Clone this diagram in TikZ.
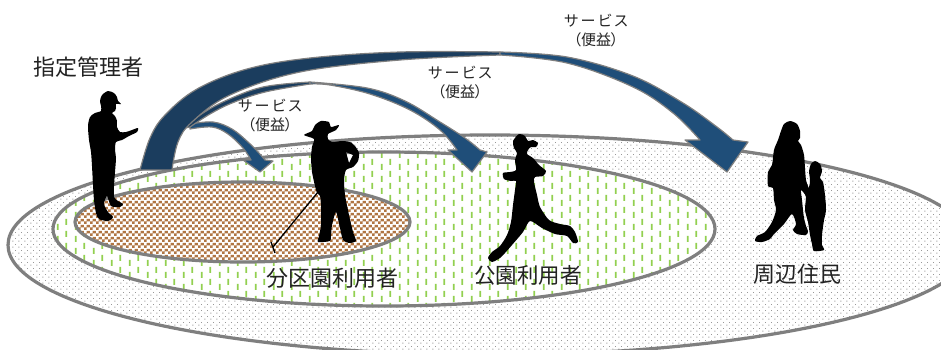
\documentclass[tikz,border=0pt]{standalone}
\usepackage{fontspec}
\newfontfamily\jp{Noto Sans CJK JP}
\newfontfamily\jpp[RawFeature=+palt]{Noto Sans CJK JP}
\usetikzlibrary{patterns}

\definecolor{rimgrey}{HTML}{7F7F7F}
\definecolor{dotgrey}{HTML}{999999}
\definecolor{grassgreen}{HTML}{92D050}
\definecolor{soilbrown}{HTML}{B07543}
\definecolor{arrowfront}{HTML}{1F4E79}
\definecolor{arrowback}{HTML}{1B3D5E}
\definecolor{inkgrey}{HTML}{222222}

% fine grey dot grid for the neighbourhood zone
\pgfdeclarepatterninherentlycolored{zonedots}{\pgfpointorigin}{\pgfpoint{6pt}{6pt}}{\pgfpoint{6pt}{6pt}}{%
  \pgfsetfillcolor{dotgrey}%
  \pgfpathrectangle{\pgfpoint{0.5pt}{0.5pt}}{\pgfpoint{1.1pt}{1.1pt}}%
  \pgfpathrectangle{\pgfpoint{3.5pt}{3.5pt}}{\pgfpoint{1.1pt}{1.1pt}}%
  \pgfusepath{fill}}
% short green grass strokes for the park
\pgfdeclarepatterninherentlycolored{grassdash}{\pgfpointorigin}{\pgfpoint{18pt}{12pt}}{\pgfpoint{18pt}{12pt}}{%
  \pgfsetfillcolor{grassgreen}%
  \pgfpathrectangle{\pgfpoint{3pt}{0pt}}{\pgfpoint{1.8pt}{6.5pt}}%
  \pgfpathrectangle{\pgfpoint{12pt}{5.5pt}}{\pgfpoint{1.8pt}{6.5pt}}%
  \pgfusepath{fill}}
% small brown checks for the allotment plots
\pgfdeclarepatterninherentlycolored{soilcheck}{\pgfpointorigin}{\pgfpoint{6pt}{6pt}}{\pgfpoint{6pt}{6pt}}{%
  \pgfsetfillcolor{soilbrown}%
  \pgfpathrectangle{\pgfpoint{0pt}{0pt}}{\pgfpoint{3pt}{3pt}}%
  \pgfpathrectangle{\pgfpoint{3pt}{3pt}}{\pgfpoint{3pt}{3pt}}%
  \pgfusepath{fill}}

\tikzset{
  rim/.style={draw=rimgrey, line width=3.2pt},
  frontpart/.style={fill=arrowfront, draw=rimgrey, line width=1.2pt, line join=round},
  backpart/.style={fill=arrowback, draw=rimgrey, line width=1.2pt, line join=round},
  figure/.style={fill=black},
  groupname/.style={font={\jp\fontsize{22}{24}\selectfont}, text=inkgrey, inner sep=0pt},
  benefit/.style={font={\jpp\fontsize{15}{19}\selectfont}, text=inkgrey, align=center, inner sep=0pt},
}

\begin{document}
\begin{tikzpicture}[x=1pt, y=-1pt]
\useasboundingbox (0,0) rectangle (941,349);
\clip (0,0) rectangle (941,349);

% ---- zones ----
\fill[white] (490,245) ellipse [x radius=482pt, y radius=110pt];
\fill[pattern=zonedots] (490,245) ellipse [x radius=482pt, y radius=110pt];
\draw[rim] (490,245) ellipse [x radius=482pt, y radius=110pt];

\fill[white] (384,229) ellipse [x radius=331pt, y radius=77pt];
\fill[pattern=grassdash] (384,229) ellipse [x radius=331pt, y radius=77pt];
\draw[rim] (384,229) ellipse [x radius=331pt, y radius=77pt];

\fill[white] (242.5,222) ellipse [x radius=167.5pt, y radius=40pt];
\fill[pattern=soilcheck] (242.5,222) ellipse [x radius=167.5pt, y radius=40pt];
\draw[rim] (242.5,222) ellipse [x radius=167.5pt, y radius=40pt];

% ---- service arrows ----
% to allotment users
\path[frontpart] plot[smooth, tension=0.6] coordinates {(190,124) (213,122) (232,129) (248,142) (258,152) (265,160)}
  -- (273,161) -- (260,172) -- (243,160) -- (251,160)
  -- plot[smooth, tension=0.6] coordinates {(251,160) (243,148) (228,134) (212,127) (190,129)} -- cycle;

% to park users
\path[backpart] plot[smooth, tension=0.6] coordinates {(185,128) (200,115) (225,101) (263,87) (310,82)}
  -- plot[smooth, tension=0.6] coordinates {(310,84) (265,92) (232,103) (210,114) (190,127)} -- cycle;
\path[frontpart] plot[smooth, tension=0.6] coordinates {(310,82) (367,88) (405,101) (440,122) (465,138) (480,150)}
  -- (487,152) -- (472,172) -- (448,150) -- (457,150)
  -- plot[smooth, tension=0.6] coordinates {(457,150) (440,130) (410,110) (370,94) (330,85) (310,84)} -- cycle;

% to neighbourhood residents
\path[backpart] plot[smooth, tension=0.6] coordinates {(140,170) (150,138) (165,115) (197,89) (247,69) (310,58) (400,52) (500,52)}
  -- plot[smooth, tension=0.6] coordinates {(500,55) (400,60) (300,72) (230,95) (192,122) (178,142) (172,170)} -- cycle;
\path[frontpart] plot[smooth, tension=0.6] coordinates {(500,52) (567,57) (633,76) (683,103) (717,127) (733,140)}
  -- (748,142) -- (727,172) -- (685,140) -- (700,140)
  -- plot[smooth, tension=0.6] coordinates {(700,140) (673,113) (633,87) (567,63) (500,55)} -- cycle;

% ---- people ----
% park manager with hard hat and tablet
\fill[figure] plot[smooth cycle, tension=0.45] coordinates {
  (108,91) (114,93) (117,97) (118,101) (121,104) (116,104) (116,108) (115,111) (112,113)
  (115,116) (117,121) (117,127) (120,132) (126,132) (132,130) (138,128) (137,132) (129,136)
  (122,140) (116,142) (115,150) (116,158) (115,172) (114,186) (114,197) (118,201) (123,204)
  (120,207) (111,206) (107,196) (104,204) (108,212) (113,217) (108,221) (99,219) (96,213)
  (94,200) (93,185) (92,166) (91,152) (89,140) (88,126) (90,117) (95,113) (101,111)
  (101,106) (100,101) (102,95)};

% allotment gardener with hat and hoe, one hand on the hip
\draw[line width=1.3pt] (318,192) -- (273,247);
\draw[line width=1.3pt] (271,242) -- (275,253);
\fill[figure, even odd rule] plot[smooth cycle, tension=0.4] coordinates {
  (304,135) (312,131) (315,125) (321,121) (329,122) (331,127) (339,125) (336,130) (328,134)
  (328,139) (332,142) (342,141) (350,142) (355,146) (359,153) (358,161) (353,167)
  (346,170) (344,180) (345,195) (349,215) (353,232) (356,241) (349,243) (343,240)
  (340,228) (336,212) (332,225) (331,236) (330,241) (318,242) (319,236) (321,225) (321,205)
  (320,196) (317,193) (315,186) (312,172) (311,158) (312,147) (314,139)}
  (346,152) -- (353,155) -- (349,163) -- cycle;

% jogger
\fill[figure] plot[smooth cycle, tension=0.45] coordinates {
  (519,134) (525,136) (528,141) (533,140) (538,143) (536,147) (531,147) (528,150) (527,154)
  (533,158) (539,165) (546,171) (543,176) (535,177) (534,182) (537,195) (540,207) (549,220)
  (560,224) (570,226) (575,232) (578,242) (573,243) (567,236) (555,234) (542,228) (530,221)
  (523,232) (512,245) (505,253) (500,258) (492,262) (488,258) (492,252) (500,246) (507,235)
  (511,222) (513,205) (515,190) (516,181) (511,181) (504,179) (503,173) (510,172) (516,170)
  (515,160) (517,153) (514,148) (513,141)};

% resident walking with a child
\fill[figure] plot[smooth cycle, tension=0.45] coordinates {
  (790,121) (797,124) (800,131) (800,138) (798,141) (801,145) (804,155) (805,168) (806,180)
  (809,190) (806,195) (801,190) (802,200) (803,210) (804,218) (806,226) (808,231) (806,235)
  (797,234) (793,230) (796,224) (792,214) (784,224) (774,234) (770,239) (762,242) (755,241)
  (757,236) (765,232) (772,222) (776,210) (774,200) (773,188) (768,186) (768,172) (772,165)
  (774,150) (778,140) (781,131) (784,124)};
\fill[figure] plot[smooth cycle, tension=0.45] coordinates {
  (815,161) (820,164) (822,171) (820,178) (823,182) (825,195) (826,210) (824,220) (822,235)
  (822,245) (824,250) (814,251) (812,244) (810,235) (808,222) (805,210) (806,197) (804,192)
  (809,187) (810,180) (809,171) (811,164)};

% ---- labels ----
\node[groupname] (manager) at (88,67) {指定管理者};
\node[groupname] (allotment) at (332,278) {分区園利用者};
\node[groupname, font={\jp\fontsize{21.5}{24}\selectfont}] (park) at (528,275) {公園利用者};
\node[groupname] (residents) at (797,274) {周辺住民};

\node[benefit] (svc1) at (270,116) {サ\kern2.5pt ー\kern2.5pt ビ\kern2.5pt ス\\（便益）};
\node[benefit] (svc2) at (460,83) {サ\kern2.5pt ー\kern2.5pt ビ\kern2.5pt ス\\（便益）};
\node[benefit] (svc3) at (596,31) {サ\kern2.5pt ー\kern2.5pt ビ\kern2.5pt ス\\（便益）};
\end{tikzpicture}
\end{document}
